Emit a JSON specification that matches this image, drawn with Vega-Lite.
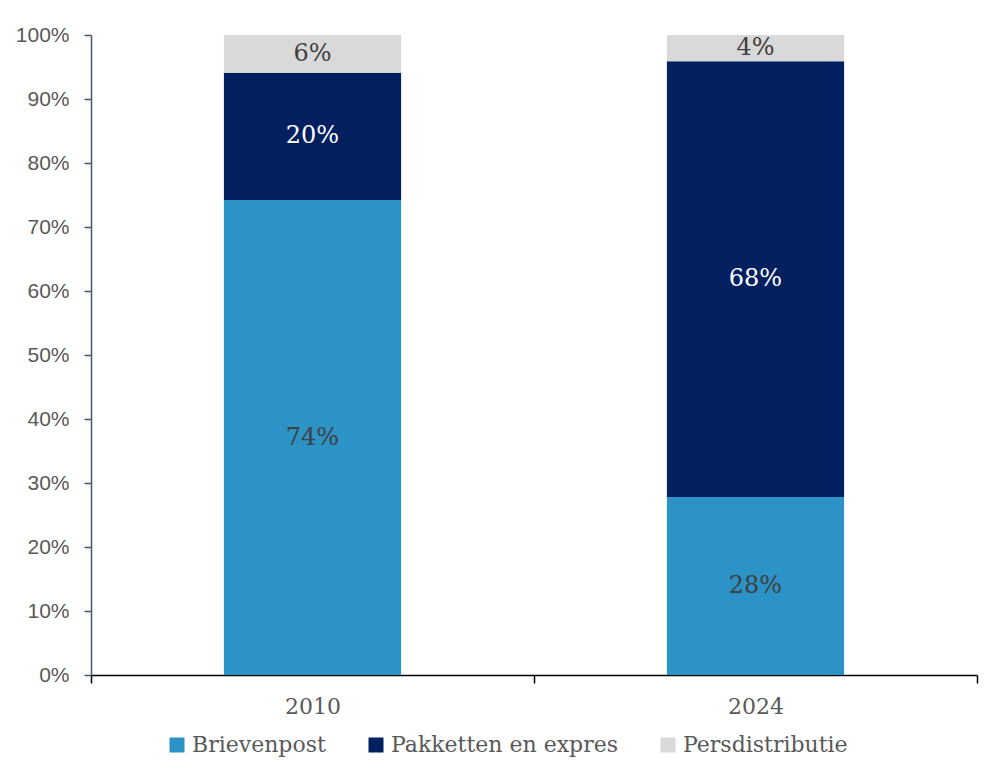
{
  "$schema": "https://vega.github.io/schema/vega-lite/v6.json",
  "autosize": "none",
  "width": 886,
  "height": 640,
  "padding": {"left": 91, "top": 35, "right": 12, "bottom": 105},
  "background": "white",
  "data": {
    "values": [
      {"jaar": "2010", "segment": "Brievenpost", "order": 1, "aandeel": 0.742},
      {"jaar": "2010", "segment": "Pakketten en expres", "order": 2, "aandeel": 0.199},
      {"jaar": "2010", "segment": "Persdistributie", "order": 3, "aandeel": 0.059},
      {"jaar": "2024", "segment": "Brievenpost", "order": 1, "aandeel": 0.278},
      {"jaar": "2024", "segment": "Pakketten en expres", "order": 2, "aandeel": 0.681},
      {"jaar": "2024", "segment": "Persdistributie", "order": 3, "aandeel": 0.041}
    ]
  },
  "encoding": {
    "x": {
      "field": "jaar", "type": "nominal", "title": null,
      "scale": {"paddingInner": 0, "paddingOuter": 0},
      "axis": {
        "labelAngle": 0, "labelFont": "DejaVu Serif", "labelFontSize": 22, "labelColor": "#595959",
        "labelPadding": 13, "domainColor": "#000000", "domainWidth": 1.5, "tickColor": "#000000",
        "tickSize": 8, "tickWidth": 1.5, "tickBand": "extent"
      }
    },
    "order": {"field": "order", "type": "quantitative"}
  },
  "layer": [
    {
      "mark": {"type": "bar", "width": {"band": 0.4}},
      "encoding": {
        "y": {
          "field": "aandeel", "type": "quantitative", "stack": "zero", "title": null,
          "scale": {"domain": [0, 1], "nice": false},
          "axis": {
            "format": ".0%", "values": [0, 0.1, 0.2, 0.3, 0.4, 0.5, 0.6, 0.7, 0.8, 0.9, 1],
            "labelOverlap": false, "grid": false, "labelFont": "Liberation Sans", "labelFontSize": 21, "labelColor": "#595959",
            "labelPadding": 15, "domainColor": "#44546A", "domainWidth": 1.5, "tickColor": "#44546A",
            "tickSize": 7, "tickWidth": 1.5
          }
        },
        "color": {
          "field": "segment", "type": "nominal", "title": null,
          "scale": {
            "domain": ["Brievenpost", "Pakketten en expres", "Persdistributie"],
            "range": ["#2B93C6", "#02205F", "#D9D9D9"]
          },
          "legend": {
            "orient": "none", "legendX": 75, "legendY": 699, "direction": "horizontal",
            "symbolType": "square", "symbolSize": 225, "symbolStrokeWidth": 0,
            "labelFont": "DejaVu Serif", "labelFontSize": 22, "labelColor": "#595959",
            "labelLimit": 0, "columnPadding": 39, "labelOffset": 4
          }
        }
      }
    },
    {
      "mark": {"type": "text", "font": "DejaVu Serif", "fontSize": 24, "baseline": "middle"},
      "encoding": {
        "y": {"field": "aandeel", "type": "quantitative", "stack": "zero", "bandPosition": 0.5},
        "text": {"field": "aandeel", "type": "quantitative", "format": ".0%"},
        "color": {
          "condition": {"test": "datum.segment === 'Pakketten en expres'", "value": "#FFFFFF"},
          "value": "#404040"
        }
      }
    }
  ],
  "config": {"view": {"stroke": null}}
}
